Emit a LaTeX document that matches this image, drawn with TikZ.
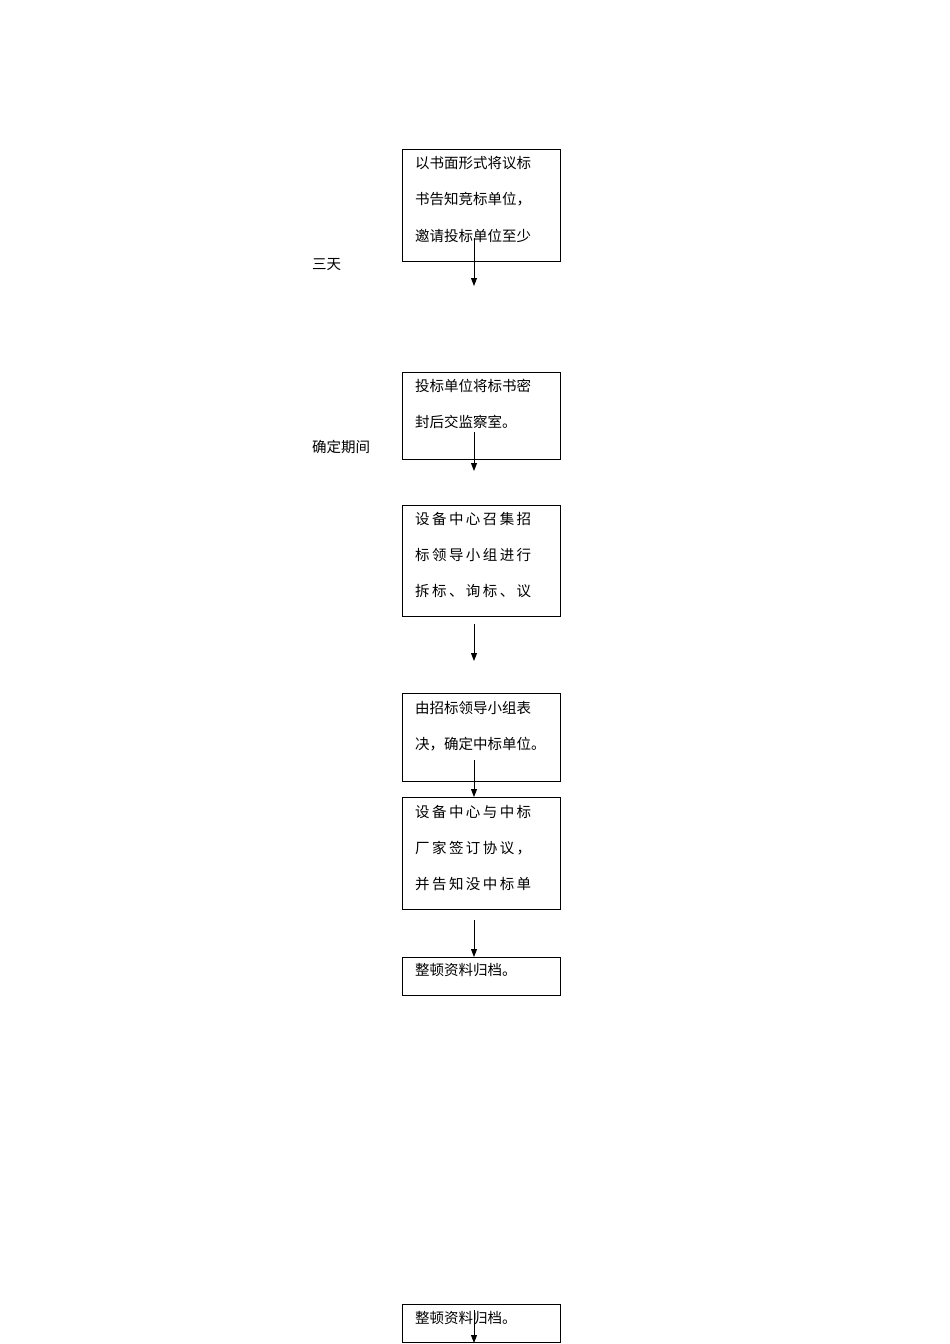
\documentclass[tikz,border=0pt]{standalone}
\usepackage{fontspec}
\newfontfamily\cjk{Noto Sans CJK SC}
\usetikzlibrary{arrows.meta}
\tikzset{
  box/.style={draw,line width=0.9pt,anchor=north west,inner sep=0pt},
  txt/.style={anchor=west,inner sep=0pt,font=\cjk\fontsize{14.5}{16}\selectfont},
  arr/.style={-{Triangle[length=8pt,width=6pt]},line width=0.9pt}
}
\begin{document}
\begin{tikzpicture}[x=1pt,y=-1pt]
\useasboundingbox (0,0) rectangle (950,1344);
\node[box,minimum width=158pt,minimum height=112pt] (b1) at (402,149) {};
\node[txt] (t11) at (415,163) {以书面形式将议标};
\node[txt] (t12) at (415,199) {书告知竞标单位，};
\node[txt] (t13) at (415,236) {邀请投标单位至少};
\node[txt] (l1) at (312,265) {三天};
\coordinate (a1s) at (474,238); \coordinate (a1e) at (474,286);
\draw[arr] (a1s) -- (a1e);

\node[box,minimum width=158pt,minimum height=87pt] (b2) at (402,372) {};
\node[txt] (t21) at (415,386) {投标单位将标书密};
\node[txt] (t22) at (415,422) {封后交监察室。};
\node[txt] (l2) at (312,447) {确定期间};
\coordinate (a2s) at (474,432); \coordinate (a2e) at (474,471);
\draw[arr] (a2s) -- (a2e);

\node[box,minimum width=158pt,minimum height=111pt] (b3) at (402,505) {};
\node[txt] (t31) at (415,519) {设\,备\,中\,心\,召\,集\,招};
\node[txt] (t32) at (415,555) {标\,领\,导\,小\,组\,进\,行};
\node[txt] (t33) at (415,591) {拆\,标\,、\,询\,标\,、\,议};
\coordinate (a3s) at (474,624); \coordinate (a3e) at (474,661);
\draw[arr] (a3s) -- (a3e);

\node[box,minimum width=158pt,minimum height=88pt] (b4) at (402,693) {};
\node[txt] (t41) at (415,708) {由招标领导小组表};
\node[txt] (t42) at (415,744) {决，确定中标单位。};
\coordinate (a4s) at (474,760);
\node[box,minimum width=158pt,minimum height=112pt] (b5) at (402,797) {};
\draw[arr] (a4s) -- (b5.north -| a4s);
\node[txt] (t51) at (415,812) {设\,备\,中\,心\,与\,中\,标};
\node[txt] (t52) at (415,848) {厂\,家\,签\,订\,协\,议\,，};
\node[txt] (t53) at (415,884) {并\,告\,知\,没\,中\,标\,单};
\coordinate (a5s) at (474,920);
\node[box,minimum width=158pt,minimum height=38pt] (b6) at (402,957) {};
\draw[arr] (a5s) -- (b6.north -| a5s);
\node[txt] (t61) at (415,970) {整顿资料归档。};

\node[box,minimum width=158pt,minimum height=38pt] (b7) at (402,1304) {};
\node[txt] (t71) at (415,1318) {整顿资料归档。};
\coordinate (a7s) at (474,1310); \coordinate (a7e) at (474,1343);
\draw[arr] (a7s) -- (a7e);
\end{tikzpicture}
\end{document}
